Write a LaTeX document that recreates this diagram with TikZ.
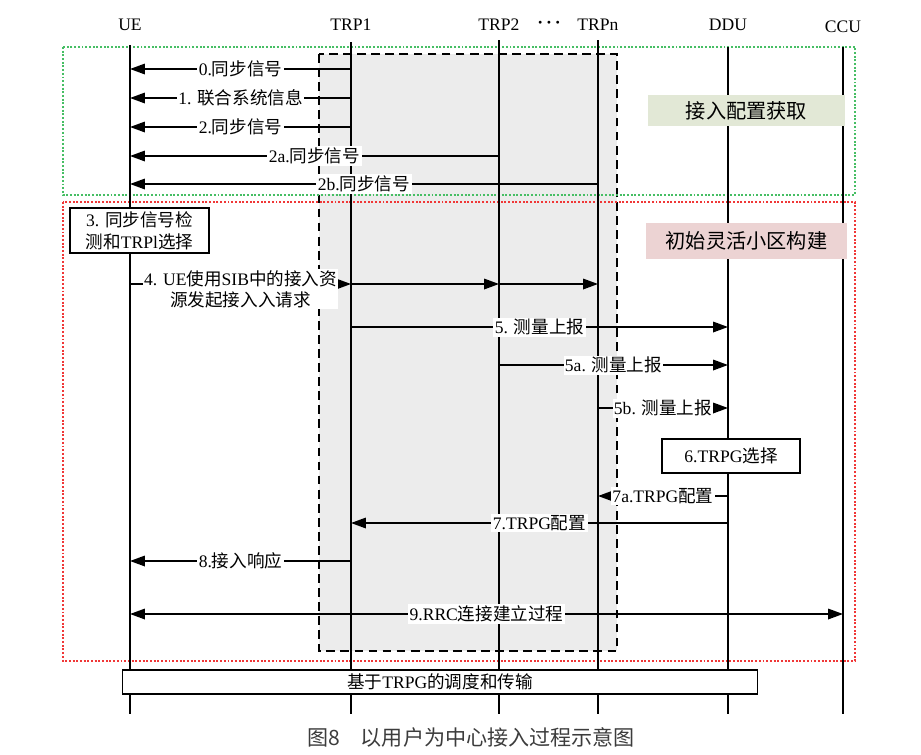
\documentclass[tikz,border=0pt]{standalone}
\usepackage{fontspec}
\setmainfont{Liberation Serif}
\newfontfamily\zh{Noto Sans CJK SC}
\usetikzlibrary{arrows.meta}
\definecolor{grpgreen}{RGB}{70,190,100}
\definecolor{grpred}{RGB}{240,55,55}
\definecolor{trpshade}{RGB}{236,236,236}
\definecolor{tagGreen}{RGB}{226,232,214}
\definecolor{tagPink}{RGB}{236,211,211}
\definecolor{capgray}{RGB}{60,60,60}

\begin{document}
\begin{tikzpicture}[x=0.02cm,y=-0.02cm,>={Triangle[length=8.5pt,width=6pt]},
  font=\fontsize{10}{12}\selectfont,
  life/.style={line width=1pt},
  msg/.style={->,line width=0.9pt},
  lbl/.style={fill=white,inner sep=0.8pt},
  stepbox/.style={draw,fill=white,line width=0.9pt,align=center,inner sep=1pt},
  tag/.style={inner sep=0pt,font=\zh\fontsize{11.5}{13}\selectfont}]
  \useasboundingbox (0,0) rectangle (921,755);
  % shaded TRP group
  \fill[trpshade] (319,54) rectangle (617,651);
  \draw[line width=1pt,dash pattern=on 5pt off 3pt] (319,54) rectangle (617,651);
  % phases
  \draw[grpgreen,densely dotted,line width=1.1pt] (63,47) rectangle (855,195);
  \draw[grpred,densely dotted,line width=1.1pt] (63,202) rectangle (855,661);
  % entities
  \node (ue) at (130,25) {UE};
  \node (trp1) at (351,25) {TRP1};
  \node (trp2) at (499,25) {TRP2};
  \node[font=\bfseries\fontsize{10}{12}\selectfont] (dots) at (549,25) {·\,·\,·};
  \node (trpn) at (598,25) {TRPn};
  \node (ddu) at (728,25) {DDU};
  \node (ccu) at (843,27) {CCU};
  \draw[life] (ue |- 0,45) -- (ue |- 0,714);
  \draw[life] (trp1 |- 0,42) -- (trp1 |- 0,714);
  \draw[life] (trp2 |- 0,40) -- (trp2 |- 0,714);
  \draw[life] (trpn |- 0,40) -- (trpn |- 0,714);
  \draw[life] (ddu |- 0,47) -- (ddu |- 0,714);
  \draw[life] (ccu |- 0,47) -- (ccu |- 0,714);
  \node[tag,fill=tagGreen,minimum width=3.94cm,minimum height=0.62cm] (getcfg) at (746.5,110.5) {接入配置获取};
  \node[tag,fill=tagPink,minimum width=4.02cm,minimum height=0.72cm] (initcell) at (746.5,241) {初始灵活小区构建};
  % access configuration
  \draw[msg] (trp1 |- 0,69) -- node[lbl] {0.{\zh 同步信号}} (ue |- 0,69);
  \draw[msg] (trp1 |- 0,98) -- node[lbl] {1. {\zh 联合系统信息}} (ue |- 0,98);
  \draw[msg] (trp1 |- 0,127) -- node[lbl] {2.{\zh 同步信号}} (ue |- 0,127);
  \draw[msg] (trp2 |- 0,156) -- node[lbl] {2a.{\zh 同步信号}} (ue |- 0,156);
  \draw[msg] (trpn |- 0,184) -- node[lbl] {2b.{\zh 同步信号}} (ue |- 0,184);
  % initial cell setup
  \node[stepbox,line width=1.3pt,minimum width=2.78cm,minimum height=0.9cm,
    font=\fontsize{10}{12.5}\selectfont] (detect) at (139.5,230.5)
    {3. {\zh 同步信号检}\\{\zh 测和}TRPl{\zh 选择}};
  \draw[msg] (ue |- 0,284) -- node[lbl,align=center,yshift=-3pt]
    {4. UE{\zh 使用}SIB{\zh 中的接入资}\\{\zh 源发起接入入请求}} (trp1 |- 0,284);
  \draw[msg] (trp1 |- 0,284) -- (trp2 |- 0,284);
  \draw[msg] (trp2 |- 0,284) -- (trpn |- 0,284);
  \draw[msg] (trp1 |- 0,327) -- node[lbl] {5. {\zh 测量上报}} (ddu |- 0,327);
  \draw[msg] (trp2 |- 0,365) -- node[lbl] {5a. {\zh 测量上报}} (ddu |- 0,365);
  \draw[msg] (trpn |- 0,408) -- node[lbl] {5b. {\zh 测量上报}} (ddu |- 0,408);
  \node[stepbox,minimum width=2.76cm,minimum height=0.68cm] (trpgsel) at (731,456) {6.TRPG{\zh 选择}};
  \draw[msg] (ddu |- 0,496) -- node[lbl] {7a.TRPG{\zh 配置}} (trpn |- 0,496);
  \draw[msg] (ddu |- 0,523) -- node[lbl] {7.TRPG{\zh 配置}} (trp1 |- 0,523);
  \draw[msg] (trp1 |- 0,561) -- node[lbl] {8.{\zh 接入响应}} (ue |- 0,561);
  \draw[msg,<->] (ue |- 0,614) -- node[lbl] {9.RRC{\zh 连接建立过程}} (ccu |- 0,614);
  % scheduling
  \node[stepbox,minimum width=12.7cm,minimum height=0.48cm,inner sep=0pt] (sched) at (440,682)
    {{\zh 基于}TRPG{\zh 的调度和传输}};
  \node[text=capgray,font=\zh\fontsize{12}{14}\selectfont] (caption) at (471,737)
    {图8　以用户为中心接入过程示意图};
\end{tikzpicture}
\end{document}
